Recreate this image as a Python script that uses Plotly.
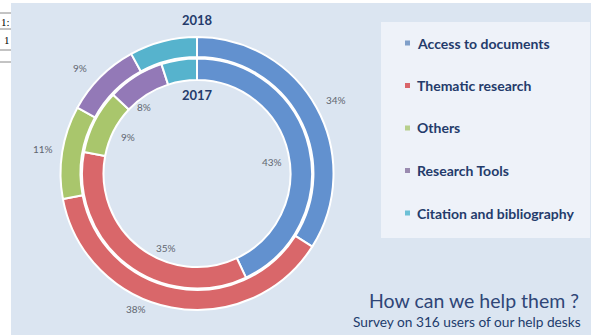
import plotly.graph_objects as go

categories = ["Access to documents", "Thematic research", "Others",
              "Research Tools", "Citation and bibliography"]
values_2018 = [34, 38, 11, 9, 8]
values_2017 = [43, 35, 9, 8, 5]
shown_2018 = [True, True, True, True, False]
shown_2017 = [True, True, True, True, False]

colors = ["#6291cf", "#d9676a", "#a9c66c", "#9379b7", "#56b3cd"]
marker_colors = ["#7f9fc9", "#d9656a", "#b7cf8c", "#9a8bb0", "#6cc0d6"]

W, H = 591, 335
BG = "#dbe5f1"
NAVY = "#243b6b"


def px(x):
    return x / W


def py(y):
    return 1 - y / H


def note(x, y, text, size, color, xanchor="center", family="Lato"):
    return dict(x=px(x), y=py(y), xref="paper", yref="paper", text=text,
                showarrow=False, xanchor=xanchor, yanchor="middle",
                font=dict(size=size, color=color, family=family))


fig = go.Figure()

# 2018 outer ring
fig.add_trace(go.Pie(
    labels=categories, values=values_2018, sort=False, direction="clockwise",
    hole=0.853, textinfo="none", hoverinfo="label+percent",
    marker=dict(colors=colors, line=dict(color="white", width=2)),
    domain=dict(x=[px(60.5), px(333.5)], y=[py(310), py(37)]),
    showlegend=False,
))

# 2017 inner ring
fig.add_trace(go.Pie(
    labels=categories, values=values_2017, sort=False, direction="clockwise",
    hole=0.813, textinfo="none", hoverinfo="label+percent",
    marker=dict(colors=colors, line=dict(color="white", width=2)),
    domain=dict(x=[px(82), px(312)], y=[py(288.5), py(58.5)]),
    showlegend=False,
))

# percentage label positions (pixels)
pos_2018 = [(336, 100), (136, 309), (43, 149), (80, 68), None]
pos_2017 = [(272, 162), (166, 248), (128, 137), (144, 107), None]

annotations = []
for vals, shown, pos in [(values_2018, shown_2018, pos_2018),
                         (values_2017, shown_2017, pos_2017)]:
    for v, s, p in zip(vals, shown, pos):
        if s and p:
            annotations.append(note(p[0], p[1], f"{v}%", 10, "#5f6670"))

annotations += [
    note(197, 20, "<b>2018</b>", 13, NAVY),
    note(197, 95, "<b>2017</b>", 13, NAVY),
    note(581, 300, "How can we help them ?", 19.5, "#2f4677", xanchor="right"),
    note(583, 321, "Survey on 316 users of our help desks", 13.7, "#223c6c", xanchor="right"),
    note(6, 22, "1:", 11, "black", family="Liberation Serif"),
    note(7, 40, "1", 11, "black", family="Liberation Serif"),
]

shapes = [
    dict(type="rect", xref="paper", yref="paper", x0=px(11), x1=1, y0=0, y1=py(3),
         fillcolor=BG, line=dict(width=0), layer="below"),
    dict(type="rect", xref="paper", yref="paper", x0=px(381), x1=px(590),
         y0=py(238), y1=py(22), fillcolor="#eef2f9", line=dict(width=0), layer="below"),
]
for yl in [13, 29, 50, 62]:
    shapes.append(dict(type="line", xref="paper", yref="paper", x0=0, x1=px(11),
                       y0=py(yl), y1=py(yl), line=dict(color="#888", width=1)))

# hand-drawn legend
for i, (name, c) in enumerate(zip(categories, marker_colors)):
    yc = 43 + i * 42.5
    shapes.append(dict(type="rect", xref="paper", yref="paper",
                       x0=px(405), x1=px(410), y0=py(yc + 2.5), y1=py(yc - 2.5),
                       fillcolor=c, line=dict(width=0)))
    annotations.append(note(415, yc, f"<b>{name}</b>", 14, NAVY, xanchor="left"))

fig.update_layout(
    width=W, height=H,
    margin=dict(l=0, r=0, t=0, b=0),
    paper_bgcolor="white",
    plot_bgcolor="white",
    annotations=annotations,
    shapes=shapes,
)

fig.write_html("out.html", config={"displayModeBar": False},
               post_script="document.body.style.margin='0';")
